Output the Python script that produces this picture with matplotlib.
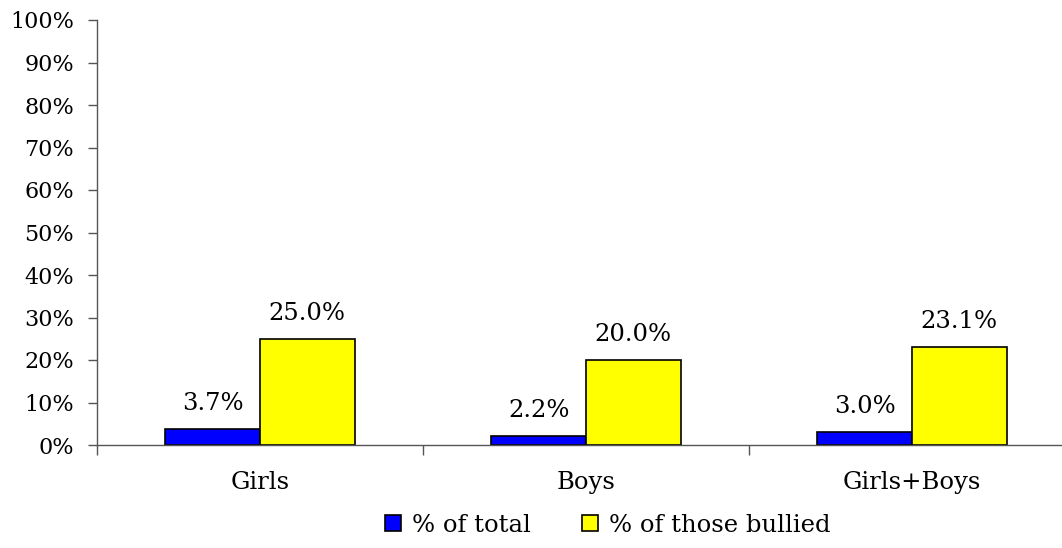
import matplotlib
matplotlib.use("Agg")
import matplotlib.pyplot as plt
import numpy as np
from matplotlib.ticker import FixedLocator, NullFormatter

categories = ["Girls", "Boys", "Girls+Boys"]
pct_total = [3.7, 2.2, 3.0]
pct_bullied = [25.0, 20.0, 23.1]
series_names = ["% of total", "% of those bullied"]
yticks = list(range(0, 101, 10))

plt.rcParams['font.family'] = ['DejaVu Serif']
FS = 16
FS2 = 17.5

fig = plt.figure(figsize=(10.62, 5.48), dpi=100)
ax = fig.add_axes([97/1062, 103/548, 978/1062, 425/548])

x = np.arange(len(categories))
w = 0.29
b1 = ax.bar(x - w/2, pct_total, w, color="#0000FF", edgecolor="black", linewidth=1.2, label=series_names[0])
b2 = ax.bar(x + w/2, pct_bullied, w, color="#FFFF00", edgecolor="black", linewidth=1.2, label=series_names[1])

for bars, vals in ((b1, pct_total), (b2, pct_bullied)):
    for r, v in zip(bars, vals):
        ax.annotate(f"{v:.1f}%", (r.get_x() + r.get_width()/2, v), xytext=(0, 10),
                    textcoords="offset points", ha="center", va="bottom", fontsize=FS2)

ax.set_xlim(-0.5, 2.5)
ax.set_ylim(0, 100)
ax.set_yticks(yticks)
ax.set_yticklabels([f"{t}%" for t in yticks], fontsize=FS)
ax.tick_params(axis="y", direction="out", length=6.5, width=1, colors="#555555", labelcolor="black", pad=10)

ax.set_xticks(x)
ax.set_xticklabels(categories, fontsize=FS2)
ax.tick_params(axis="x", which="major", length=0, pad=19)
ax.xaxis.set_minor_locator(FixedLocator([-0.5, 0.5, 1.5, 2.5]))
ax.xaxis.set_minor_formatter(NullFormatter())
ax.tick_params(axis="x", which="minor", direction="out", length=7, width=1, colors="#555555")

for s in ("top", "right"):
    ax.spines[s].set_visible(False)
for s in ("left", "bottom"):
    ax.spines[s].set_color("#555555")
    ax.spines[s].set_linewidth(1)

leg = fig.legend(handles=[b1, b2], loc="center", bbox_to_anchor=(608/1062, 1 - 525/548),
                 ncol=2, frameon=False, fontsize=FS2, handlelength=0.66, handleheight=0.66,
                 handletextpad=0.45, columnspacing=2.1)

fig.savefig("out.png", dpi=100)
